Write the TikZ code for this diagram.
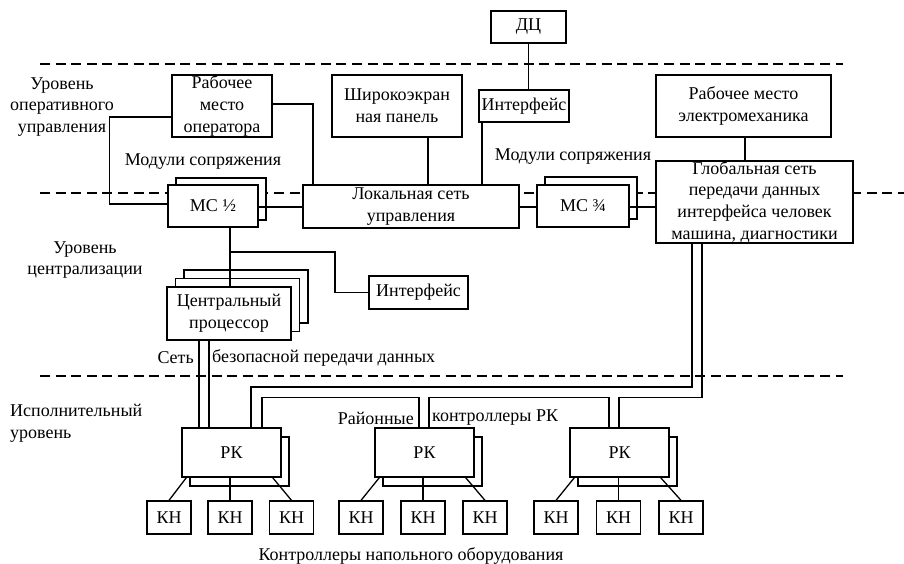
\documentclass[tikz,border=0pt]{standalone}
\usepackage{fontspec}
\setmainfont{Liberation Serif}
\begin{document}
\begin{tikzpicture}[x=1pt,y=-1pt,
  blk/.style={draw, fill=white, line width=1.3pt, inner sep=0pt, align=center},
  wire/.style={line width=1.3pt},
  lvl/.style={line width=1.3pt, dash pattern=on 10pt off 5.6pt},
  lbl/.style={inner sep=0pt, align=center},
  font=\fontsize{18}{21.7}\selectfont]

\useasboundingbox (0,0) rectangle (904,564);

% level boundaries
\draw[lvl] (40,64) -- (843,64);
\draw[lvl] (40,193) -- (904,193);
\draw[lvl] (40,376) -- (843,376);

% upper level
\node[blk, minimum width=75, minimum height=32] (dc) at (528.5,27) {ДЦ};
\node[blk, minimum width=90, minimum height=32] (intf1) at (524,106) {Интерфейс};
\node[blk, minimum width=130, minimum height=62] (panel) at (397,106) {Широкоэкран\\ная панель};
\node[blk, minimum width=100, minimum height=62] (oper) at (222,106) {Рабочее\\место\\оператора};
\node[blk, minimum width=175, minimum height=62] (elmech) at (743.5,106) {Рабочее место\\электромеханика};

% networks and interface modules
\node[blk, minimum width=197, minimum height=82] (glob) at (754.5,202) {Глобальная сеть\\передачи данных\\интерфейса человек\\машина, диагностики};
\node[blk, minimum width=216, minimum height=43] (lan) at (411,206.5) {Локальная сеть\\управления};
\node[blk, minimum width=90, minimum height=42] (mc12b) at (221,199) {};
\node[blk, minimum width=90, minimum height=42] (mc12) at (213,206) {МС ½};
\node[blk, minimum width=92, minimum height=42] (mc34b) at (591,198) {};
\node[blk, minimum width=92, minimum height=42] (mc34) at (583,206) {МС ¾};

% centralisation level
\node[blk, minimum width=124, minimum height=53] (cpuc) at (246,296.5) {};
\node[blk, minimum width=124, minimum height=53] (cpub) at (237.5,305) {};
\node[blk, minimum width=124, minimum height=53] (cpu) at (229,313.5) {Центральный\\процессор};
\node[blk, minimum width=99, minimum height=33] (intf2) at (418.5,292.5) {Интерфейс};

% area controllers and field controllers
\foreach \n/\x in {1/231.5,2/424.5,3/619.5} {
  \node[blk, minimum width=99, minimum height=49] (rk\n b) at (\x+8,461.5) {};
  \node[blk, minimum width=99, minimum height=49] (rk\n) at (\x,452.5) {РК};
}
\foreach \n/\x in {1/169,2/230,3/291.5,4/361,5/423,6/485,7/556,8/618.5,9/681}
  \node[blk, minimum width=44, minimum height=33] (kh\n) at (\x,517.5) {КН};

% text labels
\node[lbl] (l1) at (62,107) {Уровень\\оперативного\\управления};
\node[lbl] (l2) at (85,260) {Уровень\\централизации};
\node[lbl, align=left, anchor=west] (l3) at (10,423.5) {Исполнительный\\уровень};
\node[lbl] (ms1) at (203,162) {Модули сопряжения};
\node[lbl] (ms2) at (573,157) {Модули сопряжения};
\node[lbl, anchor=east] (net1) at (194,358) {Сеть};
\node[lbl, anchor=west] (net2) at (212,358) {безопасной передачи данных};
\node[lbl, anchor=east] (rkl1) at (414,418) {Районные};
\node[lbl, anchor=west] (rkl2) at (432,418) {контроллеры РК};
\node[lbl] (khl) at (411,556) {Контроллеры напольного оборудования};

% upper level links
\draw[wire] (dc.south) -- (dc.south |- intf1.north);
\draw[wire] ([xshift=-42pt]intf1.south) -- ([xshift=-42pt]intf1.south |- lan.north);
\draw[wire] ([xshift=31pt]panel.south) -- ([xshift=31pt]panel.south |- lan.north);
\draw[wire] ([yshift=2pt]oper.east) -| ([xshift=-98pt]lan.north);
\draw[wire] ([yshift=-11pt]oper.west) -- ++(-62,0) |- ([yshift=2pt]mc12.west);
\draw[wire] ([yshift=-1pt]mc12.east) -- ([yshift=-1pt]mc12.east -| lan.west);
\draw[wire] ([yshift=-0.5pt]lan.east) -- ([yshift=-0.5pt]lan.east -| mc34.west);
\draw[wire] ([yshift=-1pt]mc34.east) -- ([yshift=-1pt]mc34.east -| glob.west);
\draw[wire] ([xshift=1.5pt]elmech.south) -- ([xshift=1.5pt]elmech.south |- glob.north);

% centralisation links
\draw[wire] ([xshift=17pt]mc12.south) -- ([xshift=17pt]mc12.south |- cpu.north);
\coordinate (tap) at (230,252);
\draw[wire] (tap) -- (335,252) |- (intf2.west);

% safe data network
\draw[wire] ([xshift=-30pt]cpu.south) -- ([xshift=-30pt]cpu.south |- rk1.north);
\draw[wire] ([xshift=-20pt]cpu.south) -- ([xshift=-20pt]cpu.south |- rk1.north);
\draw[wire] ([xshift=-62.5pt]glob.south) |- (251,387) -- ([xshift=19.5pt]rk1.north);
\draw[wire] ([xshift=-52.5pt]glob.south) |- (619,397.5) -- ([xshift=-0.5pt]rk3.north);
\draw[wire] ([xshift=30.5pt]rk1.north) |- (419,397.5) -- ([xshift=-5.5pt]rk2.north);
\draw[wire] ([xshift=4.5pt]rk2.north) |- (609,397.5) -- ([xshift=-10.5pt]rk3.north);

% field controller links
\foreach \r/\a/\b/\c in {1/1/2/3,2/4/5/6,3/7/8/9} {
  \draw[wire] ([xshift=5pt]rk\r.south west) -- (kh\a.north);
  \draw[wire] (kh\b.north) -- (kh\b.north |- rk\r.south);
  \draw[wire] ([xshift=-9pt]rk\r.south east) -- (kh\c.north);
}
\end{tikzpicture}
\end{document}
